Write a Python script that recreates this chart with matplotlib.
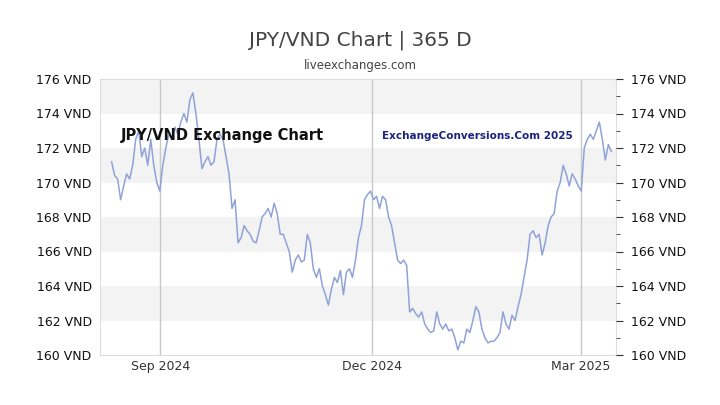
import matplotlib
matplotlib.use("Agg")
import matplotlib.pyplot as plt
import pandas as pd

values = [171.2,170.4,170.2,169.0,169.8,170.5,170.2,171,172.5,173,171.5,172,171,172.5,171,170,169.5,171,172,172.8,
172.5,173.2,172.8,173.5,174,173.5,174.8,175.2,174,172.5,170.8,171.2,171.5,171,171.2,172.5,172.8,172.5,171.5,170.5,
168.5,169,166.5,166.8,167.5,167.2,167,166.6,166.5,167.2,168,168.2,168.5,168,168.8,168.2,167,167,166.5,166,
164.8,165.5,165.8,165.4,165.5,167,166.5,165,164.5,165,164,163.5,162.9,163.8,164.5,164.2,164.9,163.5,164.8,165,
164.5,165.5,166.8,167.5,169,169.3,169.5,169,169.2,168.5,169.2,169,168,167.5,166.5,165.5,165.3,165.5,165.2,162.5,
162.7,162.4,162.2,162.5,161.8,161.5,161.3,161.4,162.5,161.8,161.5,161.8,161.4,161.5,161.0,160.3,160.8,160.7,161.5,161.3,
162,162.8,162.5,161.5,161.0,160.7,160.8,160.8,161,161.3,162.5,161.8,161.5,162.3,162,162.8,163.5,164.5,165.5,167,
167.2,166.8,167,165.8,166.5,167.5,168,168.2,169.5,170,171,170.5,169.8,170.5,170.2,169.8,169.5,172,172.5,172.8,
172.5,173,173.5,172.5,171.3,172.2,171.8]
dates = pd.date_range("2024-08-11", "2025-03-14", periods=len(values))
yticks = list(range(160, 177, 2))
ytick_labels = [f"{v} VND" for v in yticks]
xticks = [pd.Timestamp("2024-09-01"), pd.Timestamp("2024-12-01"), pd.Timestamp("2025-03-01")]
xtick_labels = ["Sep 2024", "Dec 2024", "Mar 2025"]

fig = plt.figure(figsize=(7.2, 4.05), dpi=100)
ax = fig.add_axes([100/720, 50/405, 516/720, 276/405])
x0 = pd.Timestamp("2024-08-06"); x1 = pd.Timestamp("2025-03-16")
ax.set_xlim(x0, x1)
ax.set_ylim(160, 176)
for lo in [162, 166, 170, 174]:
    ax.axhspan(lo, lo+2, color="#f3f3f3", zorder=0, lw=0)
for t in xticks:
    ax.axvline(t, color="#c8c8c8", lw=1, zorder=1)
ax.plot(dates, values, color="#8fa3d8", lw=1.1, zorder=3)
ax.set_xticks(xticks)
ax.set_xticklabels(xtick_labels, fontsize=9, color="#333333")
ax.set_yticks(yticks)
ax.set_yticklabels(ytick_labels, fontsize=9, color="#111111")
ax.tick_params(axis="both", length=0)
ax.tick_params(axis="y", pad=6)
for s in ax.spines.values():
    s.set_color("#dddddd")
ax2 = ax.twinx()
ax2.set_ylim(160, 176)
ax2.set_yticks(yticks)
ax2.set_yticklabels(ytick_labels, fontsize=9, color="#111111")
ax2.set_yticks(list(range(161, 176, 2)), minor=True)
ax2.tick_params(axis="y", which="major", length=5, color="#333333", pad=6)
ax2.tick_params(axis="y", which="minor", length=3, color="#333333")
for s in ax2.spines.values():
    s.set_visible(False)
fig.text(0.5, 1-40/405, "JPY/VND Chart | 365 D", ha="center", va="center", fontsize=14.5, color="#444444")
fig.text(0.5, 1-65/405, "liveexchanges.com", ha="center", va="center", fontsize=8.5, color="#444444")
ax.text(0.04, 0.795, "JPY/VND Exchange Chart", transform=ax.transAxes, fontsize=10.5, fontweight="bold",
        color="#111111", va="center")
ax.text(0.546, 0.795, "ExchangeConversions.Com 2025", transform=ax.transAxes, fontsize=7.5, fontweight="bold",
        color="#1a237e", va="center")
fig.savefig("out.png", dpi=100)
